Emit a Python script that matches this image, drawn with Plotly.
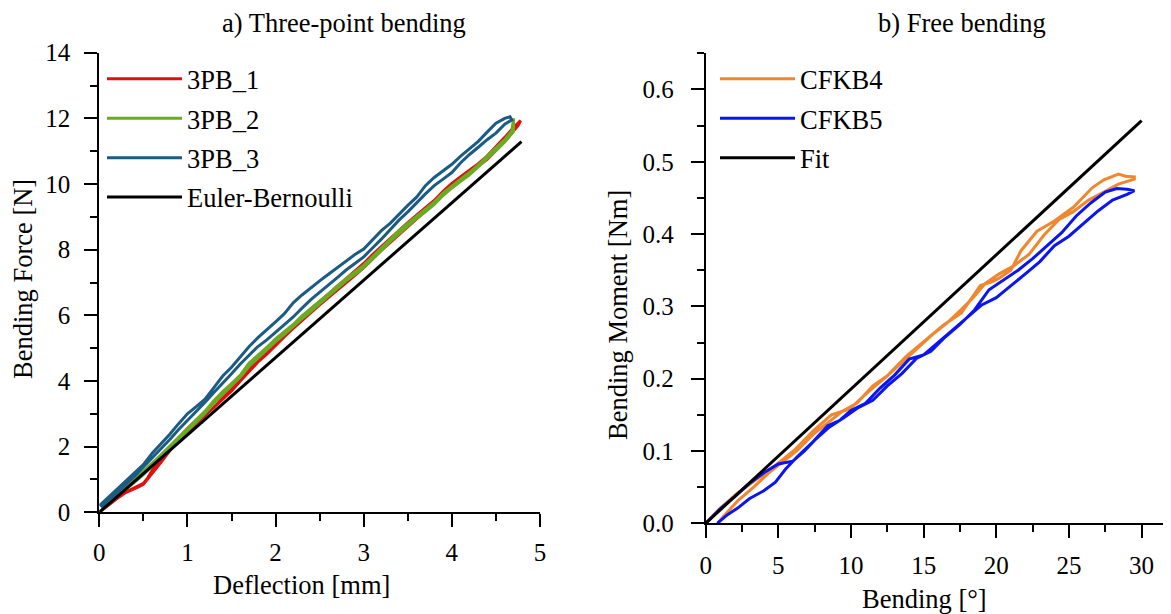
import plotly.graph_objects as go

# ---- a) Three-point bending : deflection [mm] vs force [N] (loading + unloading) ----
pb1_x = [0, 0.1, 0.2, 0.3, 0.4, 0.45, 0.5, 0.55, 0.6, 0.7, 0.8, 0.9, 1.0, 1.1, 1.2, 1.3, 1.4, 1.5,
         1.6, 1.7, 1.8, 1.9, 2.0, 2.1, 2.2, 2.3, 2.4, 2.5, 2.6, 2.7, 2.8, 2.9, 3.0, 3.1, 3.2, 3.3,
         3.4, 3.5, 3.6, 3.7, 3.8, 3.9, 4.0, 4.1, 4.2, 4.3, 4.4, 4.5, 4.6, 4.7, 4.78,
         4.75, 4.6, 4.5, 4.4, 4.3, 4.2, 4.1, 4.0, 3.9, 3.8, 3.7, 3.6, 3.5, 3.4, 3.3, 3.2, 3.1,
         3.0, 2.9, 2.8, 2.7, 2.6, 2.5, 2.4, 2.3, 2.2, 2.1, 2.0, 1.9, 1.8, 1.7, 1.6, 1.5, 1.4,
         1.3, 1.2, 1.1, 1.0, 0.9, 0.8, 0.7, 0.6, 0.5, 0.45, 0.4, 0.3, 0.2, 0.1, 0.0]
pb1_y = [0, 0.22, 0.45, 0.62, 0.75, 0.80, 0.88, 1.05, 1.28, 1.60, 1.95, 2.25, 2.55, 2.80, 3.05,
         3.35, 3.55, 3.80, 4.10, 4.40, 4.68, 4.92, 5.18, 5.45, 5.70, 5.95, 6.20, 6.42, 6.65, 6.88,
         7.10, 7.32, 7.58, 7.85, 8.10, 8.35, 8.60, 8.82, 9.05, 9.28, 9.50, 9.78, 10.02, 10.22,
         10.42, 10.62, 10.85, 11.12, 11.42, 11.72, 11.93,
         11.78, 11.30, 11.02, 10.75, 10.55, 10.32, 10.12, 9.90, 9.68, 9.42, 9.18, 8.95, 8.72,
         8.48, 8.22, 7.98, 7.72, 7.45, 7.22, 7.00, 6.78, 6.55, 6.32, 6.08, 5.85, 5.60, 5.35,
         5.08, 4.82, 4.58, 4.30, 4.00, 3.70, 3.45, 3.22, 2.95, 2.70, 2.45, 2.18, 1.88, 1.52,
         1.20, 0.85, 0.78, 0.72, 0.60, 0.42, 0.20, 0.0]

pb2_x = [0, 0.1, 0.2, 0.3, 0.4, 0.5, 0.6, 0.7, 0.8, 0.9, 1.0, 1.1, 1.2, 1.3, 1.4, 1.5, 1.6, 1.7,
         1.8, 1.9, 2.0, 2.1, 2.2, 2.3, 2.4, 2.5, 2.6, 2.7, 2.8, 2.9, 3.0, 3.1, 3.2, 3.3, 3.4, 3.5,
         3.6, 3.7, 3.8, 3.9, 4.0, 4.1, 4.2, 4.3, 4.4, 4.5, 4.6, 4.68, 4.70, 4.70,
         4.6, 4.5, 4.4, 4.3, 4.2, 4.1, 4.0, 3.9, 3.8, 3.7, 3.6, 3.5, 3.4, 3.3, 3.2, 3.1, 3.0,
         2.9, 2.8, 2.7, 2.6, 2.5, 2.4, 2.3, 2.2, 2.1, 2.0, 1.9, 1.8, 1.7, 1.6, 1.5, 1.4, 1.3,
         1.2, 1.1, 1.0, 0.9, 0.8, 0.7, 0.6, 0.5, 0.4, 0.3]
pb2_y = [0, 0.25, 0.50, 0.75, 1.00, 1.22, 1.48, 1.75, 2.02, 2.30, 2.55, 2.82, 3.08, 3.40, 3.68,
         3.92, 4.18, 4.55, 4.78, 5.02, 5.28, 5.50, 5.72, 5.98, 6.20, 6.42, 6.65, 6.90, 7.12, 7.32,
         7.52, 7.78, 8.05, 8.32, 8.58, 8.80, 9.02, 9.22, 9.45, 9.72, 9.95, 10.15, 10.35, 10.58,
         10.85, 11.10, 11.35, 11.62, 12.00, 11.60,
         11.28, 11.02, 10.78, 10.52, 10.28, 10.08, 9.88, 9.65, 9.38, 9.15, 8.95, 8.72, 8.50,
         8.25, 7.98, 7.70, 7.45, 7.25, 7.05, 6.82, 6.58, 6.35, 6.12, 5.90, 5.65, 5.42, 5.20,
         4.95, 4.70, 4.45, 4.12, 3.85, 3.60, 3.32, 3.02, 2.75, 2.48, 2.22, 1.95, 1.68, 1.42,
         1.15, 0.92, 0.70]

pb3_x = [0, 0.1, 0.2, 0.3, 0.4, 0.5, 0.6, 0.7, 0.8, 0.9, 1.0, 1.1, 1.2, 1.3, 1.4, 1.5, 1.6, 1.7,
         1.8, 1.9, 2.0, 2.1, 2.2, 2.3, 2.4, 2.5, 2.6, 2.7, 2.8, 2.9, 3.0, 3.1, 3.2, 3.3, 3.4, 3.5,
         3.6, 3.7, 3.8, 3.9, 4.0, 4.1, 4.2, 4.3, 4.4, 4.5, 4.6, 4.66, 4.68,
         4.6, 4.5, 4.4, 4.3, 4.2, 4.1, 4.0, 3.9, 3.8, 3.7, 3.6, 3.5, 3.4, 3.3, 3.2, 3.1, 3.0,
         2.9, 2.8, 2.7, 2.6, 2.5, 2.4, 2.3, 2.2, 2.1, 2.0, 1.9, 1.8, 1.7, 1.6, 1.5, 1.4, 1.3,
         1.2, 1.1, 1.0, 0.9, 0.8, 0.7, 0.6, 0.5, 0.4, 0.3, 0.2, 0.1, 0.02]
pb3_y = [0.20, 0.45, 0.70, 0.92, 1.20, 1.45, 1.80, 2.08, 2.38, 2.70, 3.00, 3.22, 3.45, 3.80,
         4.15, 4.42, 4.75, 5.05, 5.32, 5.55, 5.80, 6.05, 6.38, 6.62, 6.85, 7.05, 7.25, 7.45,
         7.65, 7.85, 8.02, 8.30, 8.58, 8.80, 9.08, 9.35, 9.60, 9.95, 10.20, 10.40, 10.60, 10.85,
         11.08, 11.30, 11.58, 11.85, 12.00, 12.05, 11.95,
         11.82, 11.55, 11.35, 11.12, 10.90, 10.65, 10.35, 10.15, 9.95, 9.70, 9.42, 9.15, 8.90,
         8.60, 8.32, 8.05, 7.78, 7.58, 7.38, 7.15, 6.92, 6.70, 6.48, 6.22, 5.95, 5.72, 5.48,
         5.25, 5.05, 4.80, 4.52, 4.22, 3.95, 3.65, 3.35, 3.08, 2.80, 2.52, 2.22, 1.95, 1.68,
         1.38, 1.10, 0.85, 0.60, 0.35, 0.15]

euler_x = [0, 4.79]
euler_y = [0, 11.29]

# ---- b) Free bending : bending [deg] vs moment [Nm] ----
cf4_x = [0, 0.95, 2.2, 3.5, 4.8, 6.1, 7.4, 8.65, 9.9, 11.2, 12.5, 13.8, 15.1, 16.35, 17.6,
         18.9, 19.7, 20.2, 21.0, 21.7, 22.8, 24.0, 25.3, 26.6, 27.4, 28.4, 28.9, 29.5,
         29.5, 28.4, 27.4, 26.35, 25.3, 24.3, 23.3, 22.25, 21.2, 20.2, 19.2, 18.4, 17.6, 16.6,
         15.6, 14.55, 13.5, 12.5, 11.5, 10.4, 9.4, 8.4, 7.4, 6.3, 5.3, 4.3, 3.3, 2.2, 1.2, 0.82]
cf4_y = [0, 0.020, 0.042, 0.061, 0.080, 0.101, 0.128, 0.150, 0.158, 0.182, 0.204, 0.231,
         0.253, 0.274, 0.291, 0.329, 0.334, 0.339, 0.350, 0.377, 0.404, 0.418, 0.437, 0.464,
         0.475, 0.483, 0.480, 0.479,
         0.476, 0.469, 0.458, 0.447, 0.431, 0.420, 0.399, 0.372, 0.356, 0.345, 0.331, 0.312,
         0.296, 0.277, 0.261, 0.242, 0.223, 0.204, 0.190, 0.166, 0.155, 0.139, 0.123, 0.101,
         0.085, 0.069, 0.050, 0.031, 0.009, 0.0]

cf5_x = [0, 1.0, 2.0, 3.0, 4.0, 5.0, 6.0, 6.8, 7.5, 8.5, 9.5, 10.5, 11.5, 12.5, 13.5, 14.5,
         15.5, 16.5, 17.5, 18.5, 19.5, 20.5, 21.5, 22.5, 23.5, 24.5, 25.5, 26.5, 27.5, 28.3,
         29.0, 29.5,
         29.0, 28.0, 27.0, 26.0, 25.0, 24.0, 23.0, 22.0, 21.0, 20.0, 19.0, 18.0, 17.0, 16.0,
         15.0, 14.0, 13.0, 12.0, 11.0, 10.0, 9.2, 8.4, 7.4, 6.3, 5.5, 4.8, 4.0, 3.0, 2.2, 1.5, 0.8]
cf5_y = [0, 0.020, 0.037, 0.055, 0.070, 0.082, 0.086, 0.100, 0.115, 0.133, 0.146, 0.160,
         0.170, 0.190, 0.207, 0.228, 0.238, 0.258, 0.275, 0.295, 0.323, 0.337, 0.350, 0.366,
         0.384, 0.402, 0.425, 0.443, 0.458, 0.463, 0.462, 0.460,
         0.455, 0.447, 0.432, 0.415, 0.397, 0.384, 0.362, 0.345, 0.328, 0.312, 0.302, 0.285,
         0.268, 0.251, 0.233, 0.227, 0.205, 0.187, 0.166, 0.156, 0.142, 0.135, 0.113, 0.092,
         0.075, 0.057, 0.045, 0.034, 0.021, 0.012, 0.0]

fit_x = [0, 30]
fit_y = [0, 0.557]

FONT = "Liberation Serif, Times New Roman, serif"
FS = 25      # tick labels
FT = 26.5    # titles, legends

fig = go.Figure()

def add(x, y, name, color, xa, ya, legend):
    fig.add_trace(go.Scatter(x=x, y=y, name=name, mode="lines", xaxis=xa, yaxis=ya,
                             line=dict(color=color, width=3), legend=legend,
                             legendgroup=name, hoverinfo="skip"))

add(pb1_x, pb1_y, "3PB_1", "#e01010", "x", "y", "legend")
add(pb2_x, pb2_y, "3PB_2", "#6aab22", "x", "y", "legend")
add(pb3_x, pb3_y, "3PB_3", "#1c5b83", "x", "y", "legend")
add(euler_x, euler_y, "Euler-Bernoulli", "black", "x", "y", "legend")
add(cf4_x, cf4_y, "CFKB4", "#f0872e", "x2", "y2", "legend2")
add(cf5_x, cf5_y, "CFKB5", "#0b14f2", "x2", "y2", "legend2")
add(fit_x, fit_y, "Fit", "black", "x2", "y2", "legend2")

# the page body keeps an 8 px margin, so the figure is 8 px smaller and offset
OFF = 8
W, H = 1171 - OFF, 614 - OFF

def px_x(p):
    return (p - OFF) / W

def px_y(p):
    return 1 - (p - OFF) / H

common = dict(showgrid=False, zeroline=False, showline=True, linecolor="black", linewidth=2,
              tickcolor="black", tickwidth=2, automargin=False,
              tickfont=dict(family=FONT, size=FS, color="black"))

def bottom_left(rng, dtick, mdtick, **kw):
    d = dict(common)
    d.update(range=rng, dtick=dtick, ticks="outside", ticklen=13,
             minor=dict(dtick=mdtick, ticks="outside", ticklen=7, tickwidth=2, tickcolor="black"))
    d.update(kw)
    return d

def mirror(rng, dtick, mdtick, **kw):
    d = dict(common)
    d.update(range=rng, dtick=dtick, ticks="inside", ticklen=10, showticklabels=False,
             minor=dict(dtick=mdtick, ticks="inside", ticklen=6, tickwidth=2, tickcolor="black"))
    d.update(kw)
    return d

xd1 = [px_x(99.3), px_x(540)]
yd1 = [px_y(512.3), px_y(52.7)]
xd2 = [px_x(705.7), 1.0]
yd2 = [px_y(523.3), px_y(53.3)]
x2_max = (1171 - 705.7) / 14.53

legend_style = dict(xanchor="left", yanchor="top", bgcolor="rgba(0,0,0,0)", itemwidth=75,
                    tracegroupgap=2, font=dict(family=FONT, size=FT, color="black"))

fig.update_layout(
    width=W, height=H, margin=dict(l=0, r=0, t=0, b=0, autoexpand=False),
    plot_bgcolor="white", paper_bgcolor="white",
    font=dict(family=FONT, size=FS, color="black"),
    xaxis=bottom_left([0, 5], 1, 0.5, domain=xd1, anchor="y", ticklabelstandoff=4),
    yaxis=bottom_left([0, 14], 2, 1, domain=yd1, anchor="x", ticklabelstandoff=9),
    xaxis3=mirror([0, 5], 1, 0.5, overlaying="x", side="top", anchor="y"),
    yaxis3=mirror([0, 14], 2, 1, overlaying="y", side="right", anchor="x"),
    xaxis2=bottom_left([0, x2_max], 5, 2.5, domain=xd2, anchor="y2", ticklabelstandoff=6),
    yaxis2=bottom_left([0, 0.65], 0.1, 0.05, domain=yd2, anchor="x2", tickformat=".1f",
                       ticklabelstandoff=12),
    xaxis4=mirror([0, x2_max], 5, 2.5, overlaying="x2", side="top", anchor="y2"),
    yaxis4=mirror([0, 0.65], 0.1, 0.05, overlaying="y2", side="right", anchor="x2",
                  showline=False),
    legend=dict(x=px_x(102), y=px_y(55), **legend_style),
    legend2=dict(x=px_x(715), y=px_y(55), **legend_style),
    showlegend=True,
)

ann = dict(showarrow=False, xref="paper", yref="paper", xanchor="center", yanchor="middle",
           font=dict(family=FONT, size=FT, color="black"))
fig.add_annotation(text="a) Three-point bending", x=px_x(344), y=px_y(23), **ann)
fig.add_annotation(text="b) Free bending", x=px_x(962), y=px_y(23), **ann)
fig.add_annotation(text="Deflection [mm]", x=px_x(301), y=px_y(585), **ann)
fig.add_annotation(text="Bending [°]", x=px_x(924), y=px_y(599), **ann)
fig.add_annotation(text="Bending Force [N]", x=px_x(23), y=px_y(279), textangle=-90, **ann)
fig.add_annotation(text="Bending Moment [Nm]", x=px_x(618), y=px_y(315), textangle=-90, **ann)

fig.write_html("out.html")
